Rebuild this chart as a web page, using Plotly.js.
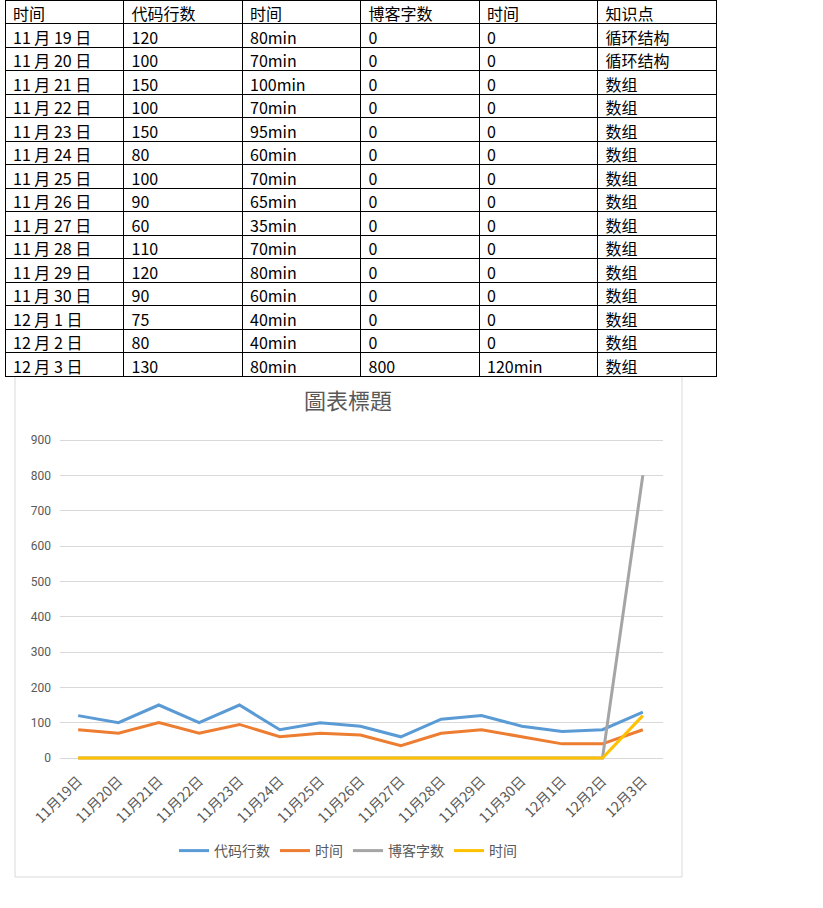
<!DOCTYPE html>
<html>
<head>
<meta charset="utf-8">
<script src="https://cdn.plot.ly/plotly-3.0.1.min.js"></script>
<style>
html,body{margin:0;padding:0;background:#fff;}
#chart{width:823px;height:908px;}
</style>
</head>
<body>
<div id="chart"></div>
<script>
// ---- data ----
const dates = ["11月19日","11月20日","11月21日","11月22日","11月23日","11月24日","11月25日","11月26日","11月27日","11月28日","11月29日","11月30日","12月1日","12月2日","12月3日"];
const codeLines = [120,100,150,100,150,80,100,90,60,110,120,90,75,80,130];
const studyMinutes = [80,70,100,70,95,60,70,65,35,70,80,60,40,40,80];
const blogWords = [0,0,0,0,0,0,0,0,0,0,0,0,0,0,800];
const blogMinutes = [0,0,0,0,0,0,0,0,0,0,0,0,0,0,120];
const topics = ["循环结构","循环结构","数组","数组","数组","数组","数组","数组","数组","数组","数组","数组","数组","数组","数组"];
const headers = ["时间","代码行数","时间","博客字数","时间","知识点"];
const seriesNames = ["代码行数","时间","博客字数","时间"];
const chartTitle = "圖表標題";

// ---- layout helpers ----
const W = 823, H = 908;
const px = x => x / W;
const py = y => 1 - y / H;

const tableDates = dates.map(d => d.replace('月', ' 月 ').replace('日', ' 日'));
const tableCells = [
  tableDates,
  codeLines.map(String),
  studyMinutes.map(v => v + 'min'),
  blogWords.map(String),
  blogMinutes.map(v => v === 0 ? '0' : v + 'min'),
  topics
];

const cjk = '"Noto Sans CJK SC", "Noto Sans", sans-serif';

const table = {
  type: 'table',
  domain: {x: [px(5), px(716)], y: [py(379), py(0)]},
  columnwidth: [1,1,1,1,1,1],
  header: {
    values: headers,
    align: 'left',
    height: 23.5,
    line: {color: '#000', width: 1},
    fill: {color: '#fff'},
    font: {family: cjk, size: 16, color: '#000'}
  },
  cells: {
    values: tableCells,
    align: 'left',
    height: 23.5,
    line: {color: '#000', width: 1},
    fill: {color: '#fff'},
    font: {family: cjk, size: 16, color: '#000'}
  }
};

const colors = ['#5B9BD5', '#ED7D31', '#A5A5A5', '#FFC000'];
const seriesData = [codeLines, studyMinutes, blogWords, blogMinutes];
const lines = seriesData.map((ys, i) => ({
  type: 'scatter',
  mode: 'lines',
  x: dates,
  y: ys,
  name: seriesNames[i],
  line: {color: colors[i], width: 3},
  xaxis: 'x', yaxis: 'y'
}));

const yLo = -20, yHi = 920, perUnit = (758 - 440) / 900;
const yBotPx = 758 + (0 - yLo) * perUnit;
const yTopPx = 440 - (yHi - 900) * perUnit;

const layout = {
  width: W, height: H,
  margin: {l: 0, r: 0, t: 0, b: 0},
  paper_bgcolor: '#fff',
  plot_bgcolor: '#fff',
  showlegend: true,
  font: {family: cjk, color: '#595959'},
  title: {
    text: chartTitle,
    x: px(348), xanchor: 'center', xref: 'paper',
    y: py(401), yanchor: 'middle', yref: 'paper',
    font: {family: '"Noto Sans CJK TC", sans-serif', size: 22, color: '#595959'}
  },
  xaxis: {
    domain: [px(60), px(663)],
    anchor: 'y',
    type: 'category',
    range: [-0.45, 14.5],
    tickangle: -45,
    showgrid: false,
    zeroline: false,
    showline: false,
    ticks: '',
    tickfont: {family: cjk, size: 14, color: '#595959'},
    ticklabelstandoff: 4,
    fixedrange: true
  },
  yaxis: {
    domain: [1 - yBotPx / H, 1 - yTopPx / H],
    anchor: 'x',
    range: [yLo, yHi],
    tick0: 0, dtick: 100,
    showgrid: true, gridcolor: '#D9D9D9', gridwidth: 1,
    zeroline: false, showline: false, ticks: '',
    tickfont: {family: 'Roboto, "Noto Sans", sans-serif', size: 12, color: '#595959'},
    ticklabelstandoff: 8,
    fixedrange: true
  },
  legend: {
    orientation: 'h',
    x: px(348), xanchor: 'center',
    y: py(851), yanchor: 'middle',
    font: {family: cjk, size: 14, color: '#595959'},
    itemwidth: 30,
    tracegroupgap: 0,
    bgcolor: 'rgba(0,0,0,0)'
  },
  shapes: [{
    type: 'rect', xref: 'paper', yref: 'paper',
    x0: px(15), x1: px(682), y0: py(877), y1: py(376),
    line: {color: '#D9D9D9', width: 1},
    fillcolor: 'rgba(0,0,0,0)',
    layer: 'below'
  }]
};

Plotly.newPlot('chart', [table].concat(lines), layout, {displayModeBar: false, staticPlot: true});
</script>
</body>
</html>
